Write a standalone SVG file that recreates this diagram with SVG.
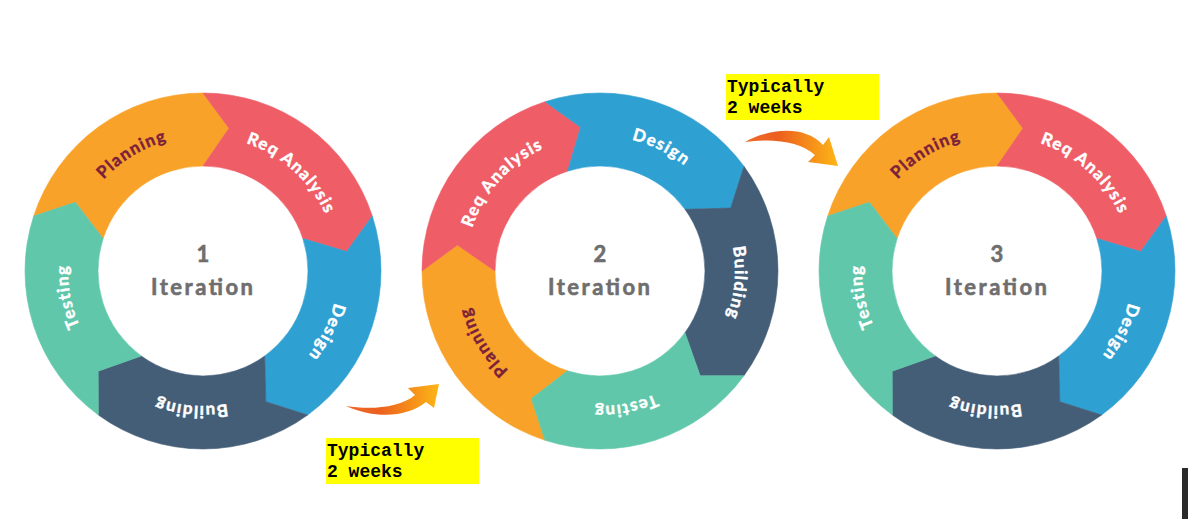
<svg xmlns="http://www.w3.org/2000/svg" xmlns:xlink="http://www.w3.org/1999/xlink" width="1188" height="519" viewBox="0 0 1188 519">
<style>
.plan{fill:#F9A229;stroke:#F9A229;stroke-width:0.6}
.req{fill:#EF5D67;stroke:#EF5D67;stroke-width:0.6}
.des{fill:#2FA0D2;stroke:#2FA0D2;stroke-width:0.6}
.bld{fill:#445E77;stroke:#445E77;stroke-width:0.6}
.tst{fill:#60C7AA;stroke:#60C7AA;stroke-width:0.6}
.lbl{font-family:Lato,"Open Sans",sans-serif;font-weight:bold;font-size:17px;letter-spacing:1.3px;fill:#FFFFFF;stroke:#FFFFFF;stroke-width:0.45}
.lbl.dark{fill:#7B1F3A;stroke:#7B1F3A}
.num{font-family:Lato,"Open Sans",sans-serif;font-weight:bold;font-size:22px;fill:#6E6E6E;stroke:#6E6E6E;stroke-width:0.6;text-anchor:middle}
.note{fill:#FFFF00}
.notetxt{font-family:"Liberation Mono","Courier New",monospace;font-weight:bold;font-size:18px;fill:#000000}
.arrow{fill:url(#orangeGrad)}
</style>
<defs>
<linearGradient id="orangeGrad" x1="0" y1="0" x2="1" y2="0">
<stop offset="0" stop-color="#EE6A2C"/>
<stop offset="0.35" stop-color="#EC5F1E"/>
<stop offset="1" stop-color="#FDB616"/>
</linearGradient>
<path id="pPlan" d="M-134.97,3.06 A135,135 0 0 1 64.83,-118.42"/>
<path id="pReq" d="M-41.72,-128.39 A135,135 0 0 1 132.05,28.07"/>
<path id="pDes" d="M112.31,-74.90 A135,135 0 0 1 8.71,134.72"/>
<path id="pBld" d="M110.59,77.43 A135,135 0 0 1 -122.35,57.05"/>
<path id="pTst" d="M-44.62,127.41 A135,135 0 0 1 -88.03,-102.35"/>
</defs>

<g id="ring1" transform="translate(203,271)">
<g id="r1-planning"><path class="plan" d="M-169.29,-55 A178,178 0 0 1 0,-178 L25.93,-142.66 L0,-105 A105,105 0 0 0 -99.86,-32.45 L-127.67,-68.74 Z"/><text class="lbl dark"><textPath href="#pPlan" startOffset="50%" text-anchor="middle">Planning</textPath></text></g>
<g id="r1-req"><path class="req" d="M0,-178 A178,178 0 0 1 169.29,-55 L143.69,-19.43 L99.86,-32.45 A105,105 0 0 0 0,-105 L25.93,-142.66 Z"/><text class="lbl"><textPath href="#pReq" startOffset="50%" text-anchor="middle">Req Analysis</textPath></text></g>
<g id="r1-design"><path class="des" d="M169.29,-55 A178,178 0 0 1 104.63,144 L62.88,130.66 L61.72,84.95 A105,105 0 0 0 99.86,-32.45 L143.69,-19.43 Z"/><text class="lbl"><textPath href="#pDes" startOffset="50%" text-anchor="middle">Design</textPath></text></g>
<g id="r1-building"><path class="bld" d="M104.63,144 A178,178 0 0 1 -104.63,144 L-104.83,100.18 L-61.72,84.95 A105,105 0 0 0 61.72,84.95 L62.88,130.66 Z"/><text class="lbl"><textPath href="#pBld" startOffset="50%" text-anchor="middle">Building</textPath></text></g>
<g id="r1-testing"><path class="tst" d="M-104.63,144 A178,178 0 0 1 -169.29,-55 L-127.67,-68.74 L-99.86,-32.45 A105,105 0 0 0 -61.72,84.95 L-104.83,100.18 Z"/><text class="lbl"><textPath href="#pTst" startOffset="50%" text-anchor="middle">Testing</textPath></text></g>
</g>
<g id="center1"><text class="num" x="203" y="262">1</text><text class="num" x="202" y="295" textLength="102" lengthAdjust="spacing">Iteration</text></g>

<g id="ring2" transform="translate(600,271) rotate(-90)">
<g id="r2-planning"><path class="plan" d="M-169.29,-55 A178,178 0 0 1 0,-178 L25.93,-142.66 L0,-105 A105,105 0 0 0 -99.86,-32.45 L-127.67,-68.74 Z"/><text class="lbl dark"><textPath href="#pPlan" startOffset="50%" text-anchor="middle">Planning</textPath></text></g>
<g id="r2-req"><path class="req" d="M0,-178 A178,178 0 0 1 169.29,-55 L143.69,-19.43 L99.86,-32.45 A105,105 0 0 0 0,-105 L25.93,-142.66 Z"/><text class="lbl"><textPath href="#pReq" startOffset="50%" text-anchor="middle">Req Analysis</textPath></text></g>
<g id="r2-design"><path class="des" d="M169.29,-55 A178,178 0 0 1 104.63,144 L62.88,130.66 L61.72,84.95 A105,105 0 0 0 99.86,-32.45 L143.69,-19.43 Z"/><text class="lbl"><textPath href="#pDes" startOffset="50%" text-anchor="middle">Design</textPath></text></g>
<g id="r2-building"><path class="bld" d="M104.63,144 A178,178 0 0 1 -104.63,144 L-104.83,100.18 L-61.72,84.95 A105,105 0 0 0 61.72,84.95 L62.88,130.66 Z"/><text class="lbl"><textPath href="#pBld" startOffset="50%" text-anchor="middle">Building</textPath></text></g>
<g id="r2-testing"><path class="tst" d="M-104.63,144 A178,178 0 0 1 -169.29,-55 L-127.67,-68.74 L-99.86,-32.45 A105,105 0 0 0 -61.72,84.95 L-104.83,100.18 Z"/><text class="lbl"><textPath href="#pTst" startOffset="50%" text-anchor="middle">Testing</textPath></text></g>
</g>
<g id="center2"><text class="num" x="600" y="262">2</text><text class="num" x="599" y="295" textLength="102" lengthAdjust="spacing">Iteration</text></g>

<g id="ring3" transform="translate(997,271)">
<g id="r3-planning"><path class="plan" d="M-169.29,-55 A178,178 0 0 1 0,-178 L25.93,-142.66 L0,-105 A105,105 0 0 0 -99.86,-32.45 L-127.67,-68.74 Z"/><text class="lbl dark"><textPath href="#pPlan" startOffset="50%" text-anchor="middle">Planning</textPath></text></g>
<g id="r3-req"><path class="req" d="M0,-178 A178,178 0 0 1 169.29,-55 L143.69,-19.43 L99.86,-32.45 A105,105 0 0 0 0,-105 L25.93,-142.66 Z"/><text class="lbl"><textPath href="#pReq" startOffset="50%" text-anchor="middle">Req Analysis</textPath></text></g>
<g id="r3-design"><path class="des" d="M169.29,-55 A178,178 0 0 1 104.63,144 L62.88,130.66 L61.72,84.95 A105,105 0 0 0 99.86,-32.45 L143.69,-19.43 Z"/><text class="lbl"><textPath href="#pDes" startOffset="50%" text-anchor="middle">Design</textPath></text></g>
<g id="r3-building"><path class="bld" d="M104.63,144 A178,178 0 0 1 -104.63,144 L-104.83,100.18 L-61.72,84.95 A105,105 0 0 0 61.72,84.95 L62.88,130.66 Z"/><text class="lbl"><textPath href="#pBld" startOffset="50%" text-anchor="middle">Building</textPath></text></g>
<g id="r3-testing"><path class="tst" d="M-104.63,144 A178,178 0 0 1 -169.29,-55 L-127.67,-68.74 L-99.86,-32.45 A105,105 0 0 0 -61.72,84.95 L-104.83,100.18 Z"/><text class="lbl"><textPath href="#pTst" startOffset="50%" text-anchor="middle">Testing</textPath></text></g>
</g>
<g id="center3"><text class="num" x="997" y="262">3</text><text class="num" x="996" y="295" textLength="102" lengthAdjust="spacing">Iteration</text></g>

<g id="connectors">
<path id="arrow1" class="arrow" d="M346,406 C370,410 400,408 415,395 L408,388 L439,384 L434,408 L426,402 C410,415 380,421 346,406 Z"/>
<path id="arrow2" class="arrow" d="M745,142 C770,128 805,125 823,145 L829,137 L838,166 L808,162 L815,155 C800,142 775,138 745,142 Z"/>
</g>

<g id="note1"><rect class="note" x="326" y="438" width="153" height="46"/><text class="notetxt" x="327" y="456">Typically</text><text class="notetxt" x="327" y="477">2 weeks</text></g>
<g id="note2"><rect class="note" x="726" y="74" width="153" height="46"/><text class="notetxt" x="727" y="92">Typically</text><text class="notetxt" x="727" y="113">2 weeks</text></g>

<rect id="edgebar" x="1182" y="468" width="6" height="51" fill="#2A2A2A"/>
</svg>
